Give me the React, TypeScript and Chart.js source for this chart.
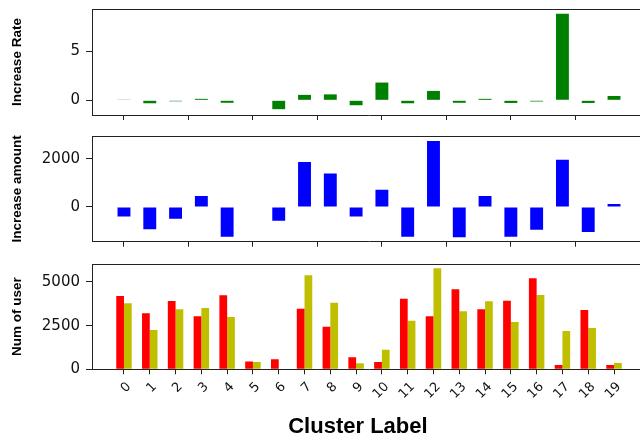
import React, { useEffect, useRef } from "react";
import { Chart, registerables } from "chart.js";

Chart.register(...registerables);

const clusters = [0, 1, 2, 3, 4, 5, 6, 7, 8, 9, 10, 11, 12, 13, 14, 15, 16, 17, 18, 19];
const increaseRate = [0.03, -0.3, -0.1, 0.15, -0.25, 0, -0.9, 0.55, 0.6, -0.5, 1.8, -0.3, 0.95, -0.25, 0.15, -0.27, -0.12, 8.78, -0.27, 0.44];
const increaseAmount = [-400, -930, -485, 460, -1235, -20, -570, 1875, 1400, -400, 720, -1235, 2750, -1265, 460, -1235, -945, 1970, -1040, 125];
const usersBefore = [4200, 3205, 3910, 3035, 4235, 440, 570, 3470, 2440, 690, 420, 4045, 3035, 4580, 3435, 3930, 5210, 250, 3395, 250];
const usersAfter = [3780, 2250, 3435, 3510, 2995, 420, 0, 5380, 3815, 345, 1125, 2785, 5780, 3320, 3890, 2710, 4255, 2195, 2365, 365];

const rateTicks = [0, 5];
const amountTicks = [0, 2000];
const userTicks = [0, 2500, 5000];
const sharedXTicks = [0, 2.5, 5, 7.5, 10, 12.5, 15, 17.5];

const FONT = "'Liberation Sans', Arial, Helvetica, sans-serif";
const TICK_FONT = "'DejaVu Sans', sans-serif";
const SPINE = "#222";
const TEXT = "#111";
const CANVAS_W = 660;

const framePlugin = {
  id: "frame",
  afterDraw(chart: any) {
    const { ctx, chartArea } = chart;
    const { left, right, top, bottom } = chartArea;
    ctx.save();
    ctx.strokeStyle = SPINE;
    ctx.lineWidth = 1;
    ctx.beginPath();
    ctx.moveTo(left, Math.round(top) + 0.5);
    ctx.lineTo(right, Math.round(top) + 0.5);
    ctx.moveTo(Math.round(right) - 0.5, top);
    ctx.lineTo(Math.round(right) - 0.5, bottom);
    ctx.stroke();
    ctx.restore();
  },
};

const xTitlePlugin = (text: string) => ({
  id: "xTitle",
  afterDraw(chart: any) {
    const { ctx, chartArea } = chart;
    ctx.save();
    ctx.fillStyle = "#000";
    ctx.font = `bold 22px ${FONT}`;
    ctx.textAlign = "center";
    ctx.textBaseline = "middle";
    const x = chartArea.left + (chartArea.right - chartArea.left) * 0.48;
    ctx.fillText(text, x, chartArea.bottom + 58);
    ctx.restore();
  },
});

type PanelProps = {
  top: number;
  height: number;
  padTop: number;
  xHeight: number;
  datasets: any[];
  yMin: number;
  yMax: number;
  yTicks: number[];
  yTitle: string;
  xTicks: number[];
  showXLabels: boolean;
  xTitle?: string;
};

const zeroPad = (s: any) => {
  s.paddingTop = 0;
  s.paddingBottom = 0;
  s.paddingLeft = 0;
  s.paddingRight = 0;
};

function Panel(p: PanelProps) {
  const ref = useRef<HTMLCanvasElement | null>(null);
  useEffect(() => {
    if (!ref.current) return;
    const plugins: any[] = [framePlugin];
    if (p.xTitle) plugins.push(xTitlePlugin(p.xTitle));
    const chart = new Chart(ref.current, {
      type: "bar",
      data: { datasets: p.datasets },
      plugins,
      options: {
        responsive: false,
        animation: false,
        devicePixelRatio: 1,
        layout: { padding: { top: p.padTop, right: 14, left: 0, bottom: 0 } },
        plugins: { legend: { display: false }, tooltip: { enabled: false } },
        scales: {
          x: {
            type: "linear",
            offset: false,
            min: -1.24,
            max: 20.24,
            afterBuildTicks: (s: any) => {
              s.ticks = p.xTicks.map((v) => ({ value: v }));
            },
            afterFit: (s: any) => {
              s.height = p.xHeight;
              zeroPad(s);
            },
            grid: { offset: false, drawOnChartArea: false, drawTicks: true, tickLength: 5, color: SPINE },
            border: { display: true, color: SPINE, width: 1 },
            ticks: {
              display: p.showXLabels,
              autoSkip: false,
              minRotation: 45,
              maxRotation: 45,
              padding: 5,
              labelOffset: 5,
              color: TEXT,
              font: { size: 13, family: TICK_FONT },
              callback: (v: any) => String(v),
            },
          },
          y: {
            type: "linear",
            min: p.yMin,
            max: p.yMax,
            afterBuildTicks: (s: any) => {
              s.ticks = p.yTicks.map((v) => ({ value: v }));
            },
            afterFit: (s: any) => {
              s.width = 92;
              zeroPad(s);
            },
            grid: { drawOnChartArea: false, drawTicks: true, tickLength: 6, color: SPINE },
            border: { display: true, color: SPINE, width: 1 },
            ticks: {
              padding: 6,
              color: TEXT,
              font: { size: 15, family: TICK_FONT },
              callback: (v: any) => String(v),
            },
            title: {
              display: true,
              text: p.yTitle,
              color: "#000",
              font: { size: 13.5, weight: "bold", family: FONT },
              padding: { top: 9, bottom: 0 },
            },
          },
        },
      } as any,
    });
    return () => chart.destroy();
  }, []);
  return (
    <canvas
      ref={ref}
      width={CANVAS_W}
      height={p.height}
      style={{ position: "absolute", left: 0, top: p.top, width: CANVAS_W, height: p.height }}
    />
  );
}

const toPoints = (vals: number[]) => clusters.map((c, i) => ({ x: c, y: vals[i] }));

export default function App() {
  const rateData = [
    {
      data: toPoints(increaseRate),
      backgroundColor: "#008000",
      borderWidth: 0,
      barPercentage: 0.5,
      categoryPercentage: 1,
    },
  ];
  const amountData = [
    {
      data: toPoints(increaseAmount),
      backgroundColor: "#0000ff",
      borderWidth: 0,
      barPercentage: 0.5,
      categoryPercentage: 1,
    },
  ];
  const userData = [
    {
      data: toPoints(usersBefore),
      backgroundColor: "#ff0000",
      borderWidth: 0,
      barPercentage: 1,
      categoryPercentage: 0.6,
    },
    {
      data: toPoints(usersAfter),
      backgroundColor: "#bfbf00",
      borderWidth: 0,
      barPercentage: 1,
      categoryPercentage: 0.6,
    },
  ];
  return (
    <div
      style={{
        position: "absolute",
        left: 0,
        top: 0,
        width: 640,
        height: 436,
        overflow: "hidden",
        background: "#fff",
      }}
    >
      <Panel
        top={0}
        height={128}
        padTop={9}
        xHeight={13}
        datasets={rateData}
        yMin={-1.49}
        yMax={9.26}
        yTicks={rateTicks}
        yTitle="Increase Rate"
        xTicks={sharedXTicks}
        showXLabels={false}
      />
      <Panel
        top={128}
        height={126}
        padTop={8}
        xHeight={12.3}
        datasets={amountData}
        yMin={-1446}
        yMax={2958}
        yTicks={amountTicks}
        yTitle="Increase amount"
        xTicks={sharedXTicks}
        showXLabels={false}
      />
      <Panel
        top={254}
        height={182}
        padTop={10}
        xHeight={66.7}
        datasets={userData}
        yMin={0}
        yMax={6030}
        yTicks={userTicks}
        yTitle="Num of user"
        xTicks={clusters}
        showXLabels={true}
        xTitle="Cluster Label"
      />
    </div>
  );
}
